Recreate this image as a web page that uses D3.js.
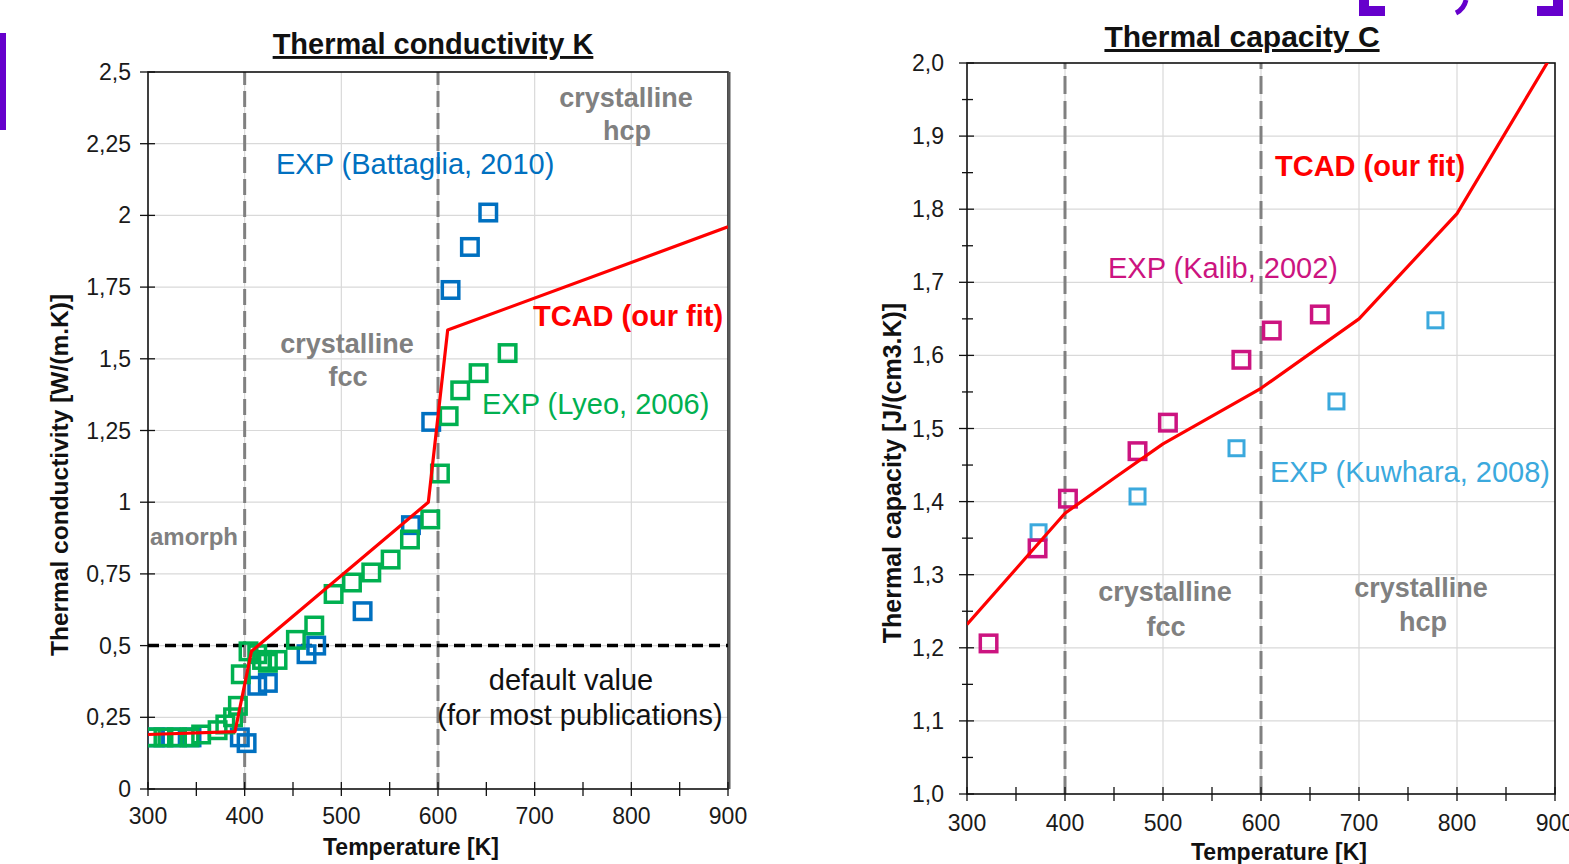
<!DOCTYPE html>
<meta charset="utf-8">
<head>
  <title>Thermal conductivity and capacity</title>
</head>

<style>
body { margin: 0; background: white; }
svg { font-family: "Liberation Sans", Arial, sans-serif; }
.grid line { stroke: #d9d9d9; stroke-width: 1.2; }
.tick-label { font-size: 23px; fill: #1a1a1a; }
.axis-title { font-size: 23px; font-weight: bold; fill: #111; }
.chart-title { font-size: 29px; font-weight: bold; fill: #111; text-decoration: underline; }
.phase { font-size: 27px; font-weight: bold; fill: #808080; }
.note { font-size: 29px; }
</style>

<body>
  <svg width="1569" height="864"></svg>

  <script src="https://cdnjs.cloudflare.com/ajax/libs/d3/7.8.5/d3.min.js"></script>
  <script>

// ---- left chart : thermal conductivity K (W/(m.K)) vs T (K)
const condTcad = [[300,0.19],[390,0.2],[407,0.48],[590,1.0],[610,1.6],[900,1.96]];
const condBattaglia = [[307,0.18],[324,0.18],[345,0.18],[395,0.18],[402,0.16],[413,0.36],[424,0.37],
  [464,0.47],[474,0.5],[522,0.62],[572,0.92],[593,1.28],[613,1.74],[633,1.89],[652,2.01]];
const condLyeo = [[303,0.18],[316,0.18],[330,0.18],[343,0.18],[355,0.19],[372,0.205],[380,0.225],
  [388,0.25],[393,0.29],[396,0.4],[404,0.48],[413,0.47],[418,0.45],[424,0.44],[434,0.45],
  [453,0.52],[472,0.57],[492,0.68],[511,0.72],[531,0.755],[551,0.8],[571,0.87],[592,0.94],
  [602,1.1],[611,1.3],[623,1.39],[642,1.45],[672,1.52]];
const condYTicks = [0,0.25,0.5,0.75,1,1.25,1.5,1.75,2,2.25,2.5];
const condYLabels = ["0","0,25","0,5","0,75","1","1,25","1,5","1,75","2","2,25","2,5"];
const defaultValue = 0.5;

// ---- right chart : thermal capacity C (J/(cm3.K)) vs T (K)
const capTcad = [[300,1.232],[400,1.384],[450,1.432],[500,1.479],[550,1.517],
  [600,1.555],[700,1.65],[800,1.794],[900,2.018]];
const capKalib = [[322,1.206],[372,1.336],[403,1.404],[474,1.469],[505,1.508],[580,1.594],[611,1.634],[660,1.656]];
const capKuwhara = [[373,1.358],[474,1.407],[575,1.473],[677,1.537],[778,1.648]];
const capYTicks = [1.0,1.1,1.2,1.3,1.4,1.5,1.6,1.7,1.8,1.9,2.0];
const capYLabels = ["1,0","1,1","1,2","1,3","1,4","1,5","1,6","1,7","1,8","1,9","2,0"];

// shared x axis
const tempTicks = [300,400,500,600,700,800,900];
const tempMinor = [350,450,550,650,750,850];
const phaseBounds = [400,600];

const red = "#ff0000", blue = "#0070c0", green = "#00b050",
      magenta = "#cc1480", cyan = "#3ba9dd", gray = "#808080";

const svg = d3.select("svg");

// slide decorations (purple bits at the edges)
const purple = "#6600cc";
svg.append("rect").attr("x", 0).attr("y", 33).attr("width", 6).attr("height", 97).attr("fill", purple);
svg.append("path").attr("fill", purple)
  .attr("d", "M1359,0 H1369 V6 H1385 V16 H1359 Z");
svg.append("path").attr("fill", purple)
  .attr("d", "M1537,0 H1563 V16 H1537 V6 H1553 V0 Z");
svg.append("path").attr("fill", "none").attr("stroke", purple).attr("stroke-width", 5)
  .attr("d", "M1466,0 Q1464,9 1456,13");

function drawChart(opt) {
  const g = svg.append("g");
  const x = d3.scaleLinear().domain([300, 900]).range(opt.xRange);
  const y = d3.scaleLinear().domain(opt.yDomain).range(opt.yRange);
  const [x0, x1] = opt.xRange, [y0, y1] = opt.yRange;

  const clipId = "clip" + opt.id;
  g.append("clipPath").attr("id", clipId)
    .append("rect").attr("x", x0).attr("y", y1).attr("width", x1 - x0).attr("height", y0 - y1);

  // grid
  const grid = g.append("g").attr("class", "grid");
  grid.selectAll(".h").data(opt.yTicks.slice(1, -1)).enter().append("line")
    .attr("x1", x0).attr("x2", x1).attr("y1", d => y(d)).attr("y2", d => y(d));
  grid.selectAll(".v").data(tempTicks.slice(1, -1)).enter().append("line")
    .attr("y1", y0).attr("y2", y1).attr("x1", d => x(d)).attr("x2", d => x(d));

  // phase boundaries
  g.selectAll(".phaseline").data(phaseBounds).enter().append("line")
    .attr("x1", d => x(d)).attr("x2", d => x(d)).attr("y1", y0).attr("y2", y1)
    .attr("stroke", gray).attr("stroke-width", 3).attr("stroke-dasharray", opt.dash);

  // frame
  g.append("rect").attr("x", x0).attr("y", y1).attr("width", x1 - x0).attr("height", y0 - y1)
    .attr("fill", "none").attr("stroke", "#111").attr("stroke-width", 1.6);
  if (opt.thickRight) {
    g.append("line").attr("x1", x1 + 1).attr("x2", x1 + 1).attr("y1", y1).attr("y2", y0)
      .attr("stroke", "#595959").attr("stroke-width", 3);
  }

  // x ticks (cross the axis)
  g.selectAll(".xt").data(tempTicks.concat(tempMinor)).enter().append("line")
    .attr("x1", d => x(d)).attr("x2", d => x(d)).attr("y1", y0 - 7).attr("y2", y0 + 7)
    .attr("stroke", "#111").attr("stroke-width", 1.3);
  g.selectAll(".xl").data(tempTicks).enter().append("text")
    .attr("class", "tick-label").attr("text-anchor", "middle")
    .attr("x", d => x(d)).attr("y", y0 + opt.xLabelDy).text(d => d);

  // y ticks
  g.selectAll(".yt").data(opt.yTicks).enter().append("line")
    .attr("x1", x0 - 8).attr("x2", x0 + 7).attr("y1", d => y(d)).attr("y2", d => y(d))
    .attr("stroke", "#111").attr("stroke-width", 1.3);
  if (opt.yMinor) {
    g.selectAll(".ym").data(opt.yMinor).enter().append("line")
      .attr("x1", x0 - 5).attr("x2", x0 + 6).attr("y1", d => y(d)).attr("y2", d => y(d))
      .attr("stroke", "#111").attr("stroke-width", 1.3);
  }
  g.selectAll(".yl").data(opt.yTicks).enter().append("text")
    .attr("class", "tick-label").attr("text-anchor", "end")
    .attr("x", x0 - opt.yLabelGap).attr("y", d => y(d) + 8).text((d, i) => opt.yLabels[i]);

  // axis titles
  g.append("text").attr("class", "axis-title").attr("text-anchor", "middle")
    .attr("x", opt.xTitle[0]).attr("y", opt.xTitle[1]).text("Temperature [K]");
  g.append("text").attr("class", "axis-title").attr("text-anchor", "middle")
    .attr("transform", "translate(" + opt.yTitle[0] + "," + opt.yTitle[1] + ") rotate(-90)")
    .style("font-size", opt.yTitleSize + "px")
    .text(opt.yTitleText);

  // chart title
  g.append("text").attr("class", "chart-title").attr("text-anchor", "middle")
    .style("font-size", opt.titleSize + "px")
    .attr("x", opt.title[0]).attr("y", opt.title[1]).text(opt.titleText);

  const plot = g.append("g").attr("clip-path", "url(#" + clipId + ")");
  const line = d3.line().x(d => x(d[0])).y(d => y(d[1]));

  opt.extra && opt.extra(plot, x, y);

  // experimental squares
  opt.series.forEach(s => {
    plot.selectAll(null).data(s.data).enter().append("rect")
      .attr("x", d => x(d[0]) - s.size / 2).attr("y", d => y(d[1]) - s.size / 2)
      .attr("width", s.size).attr("height", s.size)
      .attr("fill", "none").attr("stroke", s.color).attr("stroke-width", s.sw);
  });

  // TCAD fit
  plot.append("path").datum(opt.fit).attr("d", line)
    .attr("fill", "none").attr("stroke", red).attr("stroke-width", 3.2)
    .attr("stroke-linejoin", "round");

  // annotations
  opt.notes.forEach(n => {
    g.append("text").attr("class", n.cls).attr("x", n.x).attr("y", n.y)
      .attr("text-anchor", n.anchor || "start")
      .style("fill", n.color || null)
      .style("font-weight", n.bold ? "bold" : null)
      .style("font-size", n.size ? n.size + "px" : null)
      .text(n.text);
  });
}

drawChart({
  id: "K",
  xRange: [148, 728], yDomain: [0, 2.5], yRange: [789, 72],
  yTicks: condYTicks, yLabels: condYLabels, yLabelGap: 17,
  dash: "16,6", thickRight: true, xLabelDy: 35,
  xTitle: [411, 855], yTitle: [68, 475], yTitleSize: 24.5,
  yTitleText: "Thermal conductivity [W/(m.K)]",
  title: [433, 54], titleSize: 29, titleText: "Thermal conductivity K",
  fit: condTcad,
  series: [
    { data: condBattaglia, color: blue, size: 16.5, sw: 3.5 },
    { data: condLyeo, color: green, size: 16.5, sw: 3.5 }
  ],
  extra: (p, x, y) => {
    p.append("line").attr("x1", x(300)).attr("x2", x(900))
      .attr("y1", y(defaultValue)).attr("y2", y(defaultValue))
      .attr("stroke", "#000").attr("stroke-width", 3.5).attr("stroke-dasharray", "11,6");
  },
  notes: [
    { cls: "phase", text: "crystalline", x: 626, y: 107, anchor: "middle" },
    { cls: "phase", text: "hcp", x: 627, y: 140, anchor: "middle" },
    { cls: "note", text: "EXP (Battaglia, 2010)", x: 276, y: 174, color: blue },
    { cls: "note", text: "TCAD (our fit)", x: 533, y: 326, color: red, bold: true },
    { cls: "phase", text: "crystalline", x: 347, y: 353, anchor: "middle" },
    { cls: "phase", text: "fcc", x: 348, y: 386, anchor: "middle" },
    { cls: "note", text: "EXP (Lyeo, 2006)", x: 482, y: 414, color: green },
    { cls: "phase", text: "amorph", x: 150, y: 545, size: 24 },
    { cls: "note", text: "default value", x: 571, y: 690, anchor: "middle", color: "#111" },
    { cls: "note", text: "(for most publications)", x: 580, y: 725, anchor: "middle", color: "#111" }
  ]
});

drawChart({
  id: "C",
  xRange: [967, 1555], yDomain: [1, 2], yRange: [794, 63],
  yTicks: capYTicks, yLabels: capYLabels, yLabelGap: 23,
  yMinor: d3.range(1.05, 2.0, 0.1),
  dash: "18,7", thickRight: false, xLabelDy: 37,
  xTitle: [1279, 860], yTitle: [901, 473], yTitleSize: 25,
  yTitleText: "Thermal capacity [J/(cm3.K)]",
  title: [1242, 47], titleSize: 30, titleText: "Thermal capacity C",
  fit: capTcad,
  series: [
    { data: capKuwhara, color: cyan, size: 15, sw: 3 },
    { data: capKalib, color: magenta, size: 16.5, sw: 3.5 }
  ],
  notes: [
    { cls: "note", text: "TCAD (our fit)", x: 1275, y: 176, color: red, bold: true },
    { cls: "note", text: "EXP (Kalib, 2002)", x: 1108, y: 278, color: magenta },
    { cls: "note", text: "EXP (Kuwhara, 2008)", x: 1270, y: 482, color: cyan },
    { cls: "phase", text: "crystalline", x: 1165, y: 601, anchor: "middle" },
    { cls: "phase", text: "fcc", x: 1166, y: 636, anchor: "middle" },
    { cls: "phase", text: "crystalline", x: 1421, y: 597, anchor: "middle" },
    { cls: "phase", text: "hcp", x: 1423, y: 631, anchor: "middle" }
  ]
});

  </script>
</body>
</html>
